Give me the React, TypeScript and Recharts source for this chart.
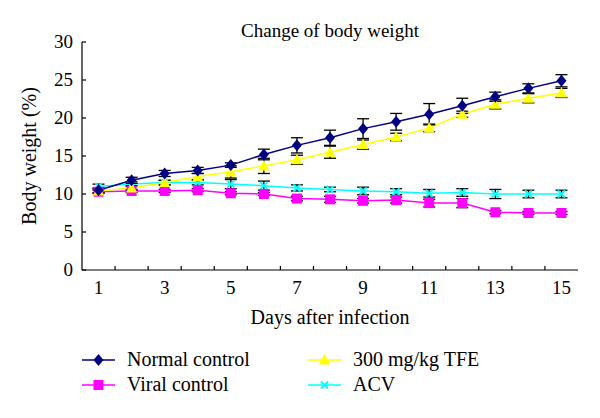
import React from 'react';
import { LineChart, Line, XAxis, YAxis, ErrorBar, Customized } from 'recharts';

const days = [1, 2, 3, 4, 5, 6, 7, 8, 9, 10, 11, 12, 13, 14, 15];
const normalControl = [10.5, 11.8, 12.7, 13.1, 13.8, 15.2, 16.4, 17.4, 18.6, 19.5, 20.5, 21.6, 22.8, 23.9, 24.9];
const normalErr = [0.3, 0.4, 0.4, 0.4, 0.3, 0.7, 1.0, 1.0, 1.3, 1.1, 1.4, 1.0, 0.6, 0.6, 0.8];
const viralControl = [10.3, 10.4, 10.4, 10.5, 10.1, 10.0, 9.4, 9.3, 9.1, 9.2, 8.8, 8.8, 7.6, 7.5, 7.5];
const viralErr = [0.2, 0.2, 0.2, 0.2, 0.2, 0.2, 0.3, 0.4, 0.3, 0.4, 0.5, 0.6, 0.2, 0.2, 0.2];
const tfe300 = [10.4, 10.8, 11.5, 12.3, 12.9, 13.7, 14.5, 15.5, 16.5, 17.5, 18.7, 20.5, 21.8, 22.6, 23.3];
const tfeErr = [0.3, 0.3, 0.3, 0.4, 0.8, 1.0, 0.6, 0.8, 0.6, 0.5, 0.5, 0.4, 0.6, 0.6, 0.6];
const acv = [11.0, 11.3, 11.5, 11.5, 11.3, 11.1, 10.8, 10.6, 10.4, 10.3, 10.1, 10.2, 10.0, 10.0, 10.0];
const acvErr = [0.3, 0.3, 0.3, 0.3, 0.6, 0.6, 0.4, 0.3, 0.5, 0.4, 0.5, 0.5, 0.6, 0.5, 0.5];

const xLabelTicks = [1, 3, 5, 7, 9, 11, 13, 15];
const xMinorTicks = [1.5, 2.5, 3.5, 4.5, 5.5, 6.5, 7.5, 8.5, 9.5, 10.5, 11.5, 12.5, 13.5, 14.5];
const yTicks = [0, 5, 10, 15, 20, 25, 30];

const title = 'Change of body weight';
const xLabel = 'Days after infection';
const yLabel = 'Body weight (%)';

const seriesNames = ['Normal control', 'Viral control', '300 mg/kg TFE', 'ACV'];

const NAVY = '#000080';
const MAGENTA = '#FF00FF';
const YELLOW = '#FFFF00';
const CYAN = '#00FFFF';
const FONT = '"Liberation Serif", "Times New Roman", serif';

const data = days.map((d, i) => ({
  day: d,
  normal: normalControl[i],
  normalErr: normalErr[i],
  viral: viralControl[i],
  viralErr: viralErr[i],
  tfe: tfe300[i],
  tfeErr: tfeErr[i],
  acv: acv[i],
  acvErr: acvErr[i],
}));

const allXTicks = [...xLabelTicks, ...xMinorTicks].sort((a, b) => a - b);

const Diamond = ({ cx, cy }: any) => (
  <polygon points={`${cx},${cy - 6} ${cx + 5},${cy} ${cx},${cy + 6} ${cx - 5},${cy}`} fill={NAVY} />
);
const Square = ({ cx, cy }: any) => (
  <rect x={cx - 5} y={cy - 5} width={10} height={10} fill={MAGENTA} />
);
const Triangle = ({ cx, cy }: any) => (
  <polygon points={`${cx},${cy - 6} ${cx + 5.5},${cy + 4.5} ${cx - 5.5},${cy + 4.5}`} fill={YELLOW} />
);
const Cross = ({ cx, cy }: any) => (
  <g stroke={CYAN} strokeWidth={2}>
    <line x1={cx - 3.5} y1={cy - 3.5} x2={cx + 3.5} y2={cy + 3.5} />
    <line x1={cx - 3.5} y1={cy + 3.5} x2={cx + 3.5} y2={cy - 3.5} />
  </g>
);

const markers = [Diamond, Square, Triangle, Cross];
const colors = [NAVY, MAGENTA, YELLOW, CYAN];

const mkDot = (Comp: any) => (p: any) => <Comp key={`d-${p.index}`} cx={p.cx} cy={p.cy} />;

const XTick = (p: any) => {
  const v = p.payload.value;
  if (Number.isInteger(v)) {
    return (
      <text x={p.x} y={p.y + 24} textAnchor="middle" fontSize={19} fontFamily={FONT} fill="#000">
        {v}
      </text>
    );
  }
  return <line x1={p.x} y1={p.y} x2={p.x} y2={p.y - 4} stroke="#000" strokeWidth={1.2} />;
};

const YTick = (p: any) => (
  <g>
    <line x1={p.x} y1={p.y} x2={p.x + 4} y2={p.y} stroke="#000" strokeWidth={1.2} />
    <text x={p.x - 9} y={p.y + 6} textAnchor="end" fontSize={19} fontFamily={FONT} fill="#000">
      {p.payload.value}
    </text>
  </g>
);

const Texts = () => {
  const legendOrder = [
    { i: 0, x: 74, y: 352 },
    { i: 1, x: 74, y: 377 },
    { i: 2, x: 300, y: 352 },
    { i: 3, x: 300, y: 377 },
  ];
  return (
    <g fontFamily={FONT} fill="#000">
      <text x={322} y={29} textAnchor="middle" fontSize={19}>{title}</text>
      <text x={322} y={316} textAnchor="middle" fontSize={20}>{xLabel}</text>
      <text x={0} y={0} transform="translate(28,148) rotate(-90)" textAnchor="middle" fontSize={20}>{yLabel}</text>
      {legendOrder.map(({ i, x, y }) => {
        const M = markers[i];
        return (
          <g key={i}>
            <line x1={x} y1={y} x2={x + 33} y2={y} stroke={colors[i]} strokeWidth={1.5} />
            <M cx={x + 16.5} cy={y} />
            <text x={x + 45} y={y + 6} fontSize={20}>{seriesNames[i]}</text>
          </g>
        );
      })}
    </g>
  );
};

export default function App() {
  return (
    <LineChart
      width={592}
      height={402}
      data={data}
      margin={{ top: 34, left: 34, right: 22, bottom: 110 }}
    >
      <XAxis
        dataKey="day"
        type="number"
        domain={[0.5, 15.5]}
        ticks={allXTicks}
        height={30}
        tickLine={false}
        tickSize={0}
        tickMargin={0}
        tick={<XTick />}
        axisLine={{ stroke: '#000', strokeWidth: 1.2 }}
        interval={0}
      />
      <YAxis
        type="number"
        domain={[0, 30]}
        ticks={yTicks}
        width={40}
        tickLine={false}
        tickSize={0}
        tickMargin={0}
        tick={<YTick />}
        axisLine={{ stroke: '#000', strokeWidth: 1.2 }}
        interval={0}
      />
      <Line dataKey="acv" stroke={CYAN} strokeWidth={1.5} dot={mkDot(Cross)} isAnimationActive={false}>
        <ErrorBar dataKey="acvErr" direction="y" width={6} stroke="#000" strokeWidth={1.3} />
      </Line>
      <Line dataKey="viral" stroke={MAGENTA} strokeWidth={1.5} dot={mkDot(Square)} isAnimationActive={false}>
        <ErrorBar dataKey="viralErr" direction="y" width={6} stroke="#000" strokeWidth={1.3} />
      </Line>
      <Line dataKey="tfe" stroke={YELLOW} strokeWidth={1.5} dot={mkDot(Triangle)} isAnimationActive={false}>
        <ErrorBar dataKey="tfeErr" direction="y" width={6} stroke="#000" strokeWidth={1.3} />
      </Line>
      <Line dataKey="normal" stroke={NAVY} strokeWidth={1.5} dot={mkDot(Diamond)} isAnimationActive={false}>
        <ErrorBar dataKey="normalErr" direction="y" width={6} stroke="#000" strokeWidth={1.3} />
      </Line>
      <Customized component={Texts} />
    </LineChart>
  );
}
